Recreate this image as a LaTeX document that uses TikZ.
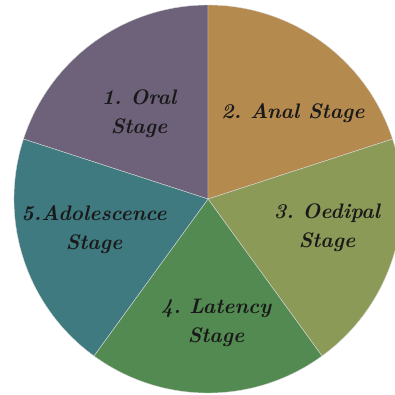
\documentclass[tikz,border=0pt]{standalone}
\usepackage{tikz}

\definecolor{oral}{HTML}{6D6279}
\definecolor{anal}{HTML}{B48A4E}
\definecolor{oedipal}{HTML}{8C9A58}
\definecolor{latency}{HTML}{528A52}
\definecolor{adolescence}{HTML}{3F7A80}

\tikzset{
	stagelabel/.style={align=center, text=black!90, font=\frenchspacing\bfseries\itshape\fontsize{21}{29}\selectfont}
}

\begin{document}
\begin{tikzpicture}[x=1pt,y=1pt]
			\useasboundingbox (0,0) rectangle (395,394);
			\clip (0,0) rectangle (395,394);
			\coordinate (c) at (208,195);

			% five equal slices, counterclockwise from each start angle
			\foreach \a/\col in {90/oral,18/anal,-54/oedipal,-126/latency,162/adolescence}
			\draw[fill=\col, draw=white!70!gray, line width=0.4pt] (c) -- ++(\a:194) arc[start angle=\a, delta angle=72, radius=194] -- cycle;

			\node[stagelabel] (oralL) at (139,280) {1. Oral\\Stage};
			\node[stagelabel] (analL) at (293,281) {2. Anal Stage};
			\node[stagelabel] (oedipalL) at (327,166) {3. Oedipal\\Stage};
			\node[stagelabel] (latencyL) at (216,71) {4. Latency\\Stage};
			\node[stagelabel] (adolescenceL) at (94,164) {5.Adolescence\\Stage};
		\end{tikzpicture}
\end{document}
